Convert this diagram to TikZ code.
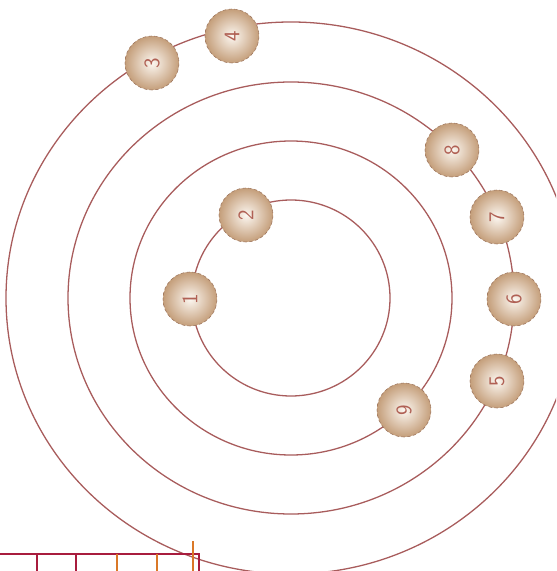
\documentclass[tikz,border=0pt]{standalone}
\usepackage{xcolor}
\usepackage{tikz}
\usetikzlibrary{shapes,positioning,calc}
\definecolor{ringred}{RGB}{168, 92, 92}
\definecolor{ballcore}{RGB}{252, 247, 241}
\definecolor{ballrim}{RGB}{196, 158, 122}
\definecolor{balledge}{RGB}{160, 120, 95}
\definecolor{digitred}{RGB}{176, 96, 84}
\definecolor{rulecrimson}{RGB}{168, 28, 62}
\definecolor{ruleorange}{RGB}{218, 120, 40}

\begin{document}
\begin{tikzpicture}[x=0.03cm, y=-0.03cm]
    \tikzstyle{ring} = [draw=ringred, line width=1.1pt]
    \tikzstyle{ball} = [circle, minimum size=1.62cm, inner sep=0pt, inner color=ballcore, outer color=ballrim, draw=balledge, densely dashed, line width=0.5pt, text=digitred, font=\fontsize{19}{22}\sffamily, rotate=90]
    \tikzstyle{tick} = [line width=1.4pt]

    \useasboundingbox (0,0) rectangle (556,571);
    \clip (0,0) rectangle (556,571);

    % orbits
    \coordinate (c) at (291,298);
    \draw[ring] (c) ellipse [x radius=99, y radius=98];
    \draw[ring] (c) ellipse [x radius=161, y radius=157];
    \draw[ring] (c) ellipse [x radius=223, y radius=216];
    \draw[ring] (c) ellipse [x radius=285, y radius=276];

    \node[ball] (n1) at (190,299) {1};
    \node[ball] (n2) at (246,215) {2};
    \node[ball] (n3) at (152,63) {3};
    \node[ball] (n4) at (232,36) {4};
    \node[ball] (n5) at (497,381) {5};
    \node[ball] (n6) at (514,299) {6};
    \node[ball] (n7) at (497,217) {7};
    \node[ball] (n8) at (452,150) {8};
    \node[ball] (n9) at (404,410) {9};

    % scale bar at the bottom left
    \draw[tick, rulecrimson] (0,554) -- (199,554) -- (199,571);
    \foreach \x in {37,76}
        \draw[tick, rulecrimson] (\x,554) -- (\x,571);
    \foreach \x in {117,157}
        \draw[tick, ruleorange] (\x,554) -- (\x,571);
    \draw[tick, ruleorange] (193,541) -- (193,571);
\end{tikzpicture}
\end{document}
